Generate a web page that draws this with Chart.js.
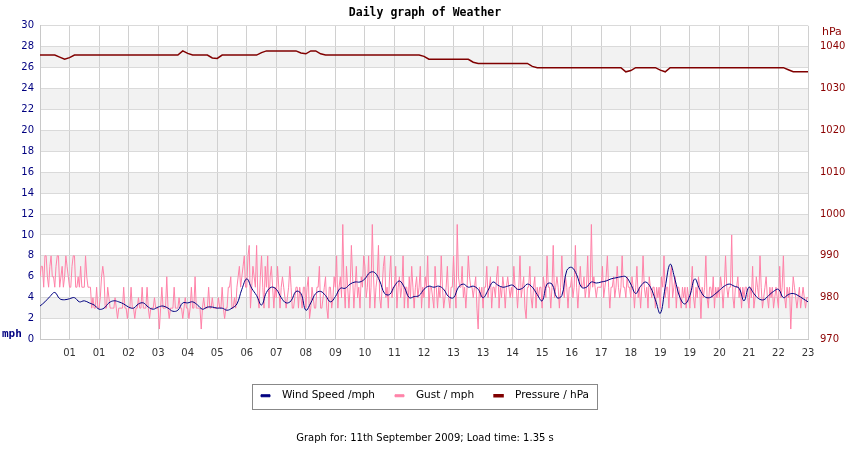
<!DOCTYPE html>
<html>
<head>
<meta charset="utf-8">
<script src="https://cdn.jsdelivr.net/npm/chart.js@4/dist/chart.umd.min.js"></script>
<style>
  html, body { margin: 0; padding: 0; background: #fff; }
  #wrap { width: 850px; height: 450px; }
</style>
</head>
<body>
<div id="wrap"><canvas id="weather" width="850" height="450"></canvas></div>
<script>
// hour labels under each vertical grid line
const hourLabels = ['01','01','02','03','04','05','06','07','08','09','10','11','12',
                    '13','13','14','15','16','17','18','19','19','20','21','22','23'];

// wind speed, mph (6 samples per grid interval)
const windSpeed = [
  3.2,3.6,4.1,4.5,3.9,3.8,3.9,4.0,3.6,3.7,
  3.5,3.3,2.9,3.0,3.5,3.7,3.6,3.4,3.1,3.0,
  3.4,3.5,3.1,2.9,3.1,3.2,3.0,2.7,2.8,3.5,
  3.5,3.6,3.3,2.9,3.1,3.1,3.0,3.0,2.8,3.0,
  3.4,4.8,5.8,4.9,4.2,3.3,4.5,5.0,4.8,4.0,
  3.5,3.7,4.6,4.4,2.8,3.5,4.4,4.6,4.2,3.6,
  4.1,4.9,4.9,5.3,5.5,5.5,5.8,6.4,6.4,5.6,
  4.4,4.3,5.1,5.6,5.0,4.0,4.1,4.2,4.8,5.1,
  5.0,5.1,4.8,4.1,4.0,5.0,5.3,5.0,5.1,4.8,
  4.0,4.7,5.5,5.2,5.0,5.1,5.2,4.8,4.9,5.3,
  5.0,4.3,3.7,5.3,5.3,4.0,4.2,6.6,6.9,6.2,
  5.0,5.0,5.5,5.4,5.5,5.6,5.8,5.9,6.0,6.0,
  5.3,4.4,5.1,5.5,5.0,3.8,2.5,5.0,7.2,5.7,
  4.0,3.4,4.2,5.8,4.8,4.1,4.0,4.3,4.7,5.1,
  5.3,5.1,4.9,3.7,5.0,4.4,3.9,3.8,4.2,4.6,
  4.8,4.0,4.3,4.4,4.2,3.9,3.6
];

// pressure, hPa (same sampling as wind)
const pressure = [
  1038,1038,1038,1038,1037.5,1037,1037.4,1038,1038,1038,
  1038,1038,1038,1038,1038,1038,1038,1038,1038,1038,
  1038,1038,1038,1038,1038,1038,1038,1038,1038,1039,
  1038.4,1038,1038,1038,1038,1037.3,1037.2,1038,1038,1038,
  1038,1038,1038,1038,1038,1038.6,1039,1039,1039,1039,
  1039,1039,1039,1038.5,1038.3,1039,1039,1038.3,1038,1038,
  1038,1038,1038,1038,1038,1038,1038,1038,1038,1038,
  1038,1038,1038,1038,1038,1038,1038,1038,1037.7,1037,
  1037,1037,1037,1037,1037,1037,1037,1037,1036.3,1036,
  1036,1036,1036,1036,1036,1036,1036,1036,1036,1036,
  1035.3,1035,1035,1035,1035,1035,1035,1035,1035,1035,
  1035,1035,1035,1035,1035,1035,1035,1035,1035,1034,
  1034.3,1035,1035,1035,1035,1035,1034.4,1034,1035,1035,
  1035,1035,1035,1035,1035,1035,1035,1035,1035,1035,
  1035,1035,1035,1035,1035,1035,1035,1035,1035,1035,
  1035,1035,1034.5,1034,1034,1034,1034
];

// gusts, mph (24 samples per grid interval)
const gust = [
  6,7,7,5,8,8,6,5,7,8,6,6,5,7,8,8,5,6,7,5,6,8,7,6,
  5,5,7,8,8,5,5,6,5,7,5,5,5,8,6,5,5,5,3,4,3,3,5,3,
  3,4,6,7,6,3,3,5,4,3,3,3,3,4,3,2,3,3,3,3,5,3,3,2,
  3,3,5,3,3,2,3,3,4,3,3,5,3,3,3,5,3,2,3,3,3,4,3,3,
  3,1,3,5,3,3,3,6,3,2,3,3,3,5,3,3,3,4,3,3,2,3,4,3,
  3,2,3,5,3,3,6,3,3,3,3,1,3,4,3,3,3,5,3,3,4,3,3,3,
  3,4,3,3,5,3,2,3,3,5,5,6,3,3,4,3,5,6,7,5,6,7,8,5,
  5,8,9,3,5,7,6,5,9,4,3,6,8,5,3,7,5,8,3,6,7,5,3,5,
  4,7,5,3,5,6,5,4,3,4,5,7,5,3,3,4,5,5,3,5,4,3,5,5,
  3,5,6,2,3,5,4,3,3,5,5,7,3,3,4,5,6,3,2,5,5,3,4,6,
  5,8,3,5,6,4,11,5,3,7,5,3,5,9,6,3,5,7,4,5,3,6,5,8,
  7,4,5,8,3,5,11,6,3,5,6,9,4,3,5,7,8,4,5,3,6,8,4,5,
  5,7,3,5,6,4,5,8,3,5,5,3,6,4,7,5,3,5,6,4,5,7,3,5,
  4,6,5,8,3,5,5,4,3,7,5,3,5,4,8,5,3,4,5,7,4,3,5,5,
  8,5,3,11,6,5,5,7,4,5,3,5,8,6,5,5,4,5,6,3,1,5,4,5,
  3,5,5,7,4,5,6,3,5,5,4,6,7,3,5,4,6,5,3,5,6,5,4,5,
  4,7,5,5,3,5,8,4,5,6,3,2,5,5,7,4,3,5,6,3,5,4,5,5,
  3,6,5,4,8,5,5,3,5,9,4,5,6,5,3,5,8,5,4,6,5,3,5,5,
  6,4,5,9,5,3,5,7,5,5,6,4,5,8,4,5,11,5,6,5,4,5,5,5,
  5,7,4,5,6,8,5,3,5,5,6,4,5,7,5,4,5,8,5,5,4,6,5,5,
  4,6,5,3,5,7,4,5,3,5,8,5,4,5,3,6,5,4,5,5,3,5,4,5,
  3,6,5,8,4,5,5,3,6,7,4,5,6,3,5,5,4,3,5,4,5,3,5,4,
  3,5,7,4,3,5,4,6,5,2,5,4,5,8,4,3,5,5,4,6,3,5,4,5,
  4,6,5,3,5,8,5,4,5,5,10,4,3,5,5,6,4,5,3,5,4,5,5,4,
  3,5,4,7,3,4,6,5,4,8,5,3,4,5,6,4,3,5,4,5,3,4,5,4,
  3,7,4,5,8,4,3,5,4,5,1,4,6,5,4,3,4,5,3,4,5,4,3,4,
  4
];

const intervals = hourLabels.length;
const toPoints = (arr) => arr.map((v, i) => ({ x: i * intervals / (arr.length - 1), y: v }));

// grey bands, axis units and corner labels
const decor = {
  id: 'decor',
  beforeDraw(chart) {
    const { ctx, chartArea: a, scales: { y } } = chart;
    ctx.save();
    ctx.fillStyle = '#f2f2f2';
    for (let v = 2; v < 30; v += 4) {
      const top = y.getPixelForValue(v + 2), bot = y.getPixelForValue(v);
      ctx.fillRect(a.left, top, a.right - a.left, bot - top);
    }
    ctx.restore();
  },
  afterDraw(chart) {
    const { ctx, chartArea: a } = chart;
    ctx.save();
    ctx.font = 'bold 11px "DejaVu Sans Mono"';
    ctx.fillStyle = '#000080';
    ctx.textBaseline = 'middle';
    ctx.fillText('mph', 2, a.bottom - 5);
    ctx.font = '11px "DejaVu Sans"';
    ctx.fillStyle = '#8b0000';
    ctx.fillText('hPa', 822, a.top + 6);
    // frame round the legend
    const boxes = chart.legend.legendHitBoxes;
    if (boxes.length) {
      const l = Math.min(...boxes.map(b => b.left)) - 9;
      const r = Math.max(...boxes.map(b => b.left + b.width)) + 8;
      const t = Math.min(...boxes.map(b => b.top)) - 7;
      const btm = Math.max(...boxes.map(b => b.top + b.height)) + 7;
      ctx.strokeStyle = '#888';
      ctx.lineWidth = 1;
      ctx.strokeRect(Math.round(l) + 0.5, Math.round(t) + 0.5, Math.round(r - l), Math.round(btm - t));
    }
    ctx.restore();
  }
};

const ctx = document.getElementById('weather').getContext('2d');
const chart = new Chart(ctx, {
  type: 'line',
  data: {
    datasets: [
      {
        label: 'Wind Speed /mph',
        data: toPoints(windSpeed),
        borderColor: '#000080',
        backgroundColor: '#000080',
        borderWidth: 1,
        pointRadius: 0,
        tension: 0.4,
        yAxisID: 'y'
      },
      {
        label: 'Gust / mph',
        data: toPoints(gust),
        borderColor: '#ff82a8',
        backgroundColor: '#ff82a8',
        borderWidth: 1,
        pointRadius: 0,
        tension: 0,
        yAxisID: 'y'
      },
      {
        label: 'Pressure / hPa',
        data: toPoints(pressure),
        borderColor: '#800000',
        backgroundColor: '#800000',
        borderWidth: 1.5,
        pointRadius: 0,
        tension: 0,
        yAxisID: 'y1'
      }
    ]
  },
  options: {
    responsive: false,
    animation: false,
    devicePixelRatio: 1,
    layout: { padding: { top: 0, bottom: 4, left: 0, right: 0 } },
    scales: {
      x: {
        type: 'linear',
        min: 0,
        max: intervals,
        afterFit: (s) => { s.height = 31; },
        grid: { color: '#d0d0d0', drawTicks: false },
        border: { color: '#c8c8c8' },
        ticks: {
          stepSize: 1,
          autoSkip: false,
          maxRotation: 0,
          padding: 8,
          color: '#333',
          font: { family: 'DejaVu Sans', size: 10 },
          callback: (v) => (v >= 1 ? hourLabels[v - 1] : '')
        }
      },
      y: {
        position: 'left',
        min: 0,
        max: 30,
        afterFit: (s) => { s.width = 40; },
        grid: { color: '#dadada', drawTicks: false },
        border: { color: '#c8c8c8' },
        ticks: {
          stepSize: 2,
          padding: 6,
          color: '#000080',
          font: { family: 'DejaVu Sans', size: 10 }
        }
      },
      y1: {
        position: 'right',
        min: 970,
        max: 1045,
        afterFit: (s) => { s.width = 42; },
        grid: { display: false },
        border: { display: false },
        ticks: {
          stepSize: 10,
          padding: 4,
          color: '#8b0000',
          font: { family: 'DejaVu Sans', size: 10 },
          callback: (v) => (v > 1040 ? '' : v)
        }
      }
    },
    plugins: {
      title: {
        display: true,
        text: 'Daily graph of Weather',
        color: '#000',
        font: { family: 'DejaVu Sans Mono', size: 11.5, weight: 'bold' },
        padding: { top: 6, bottom: 6 }
      },
      legend: {
        position: 'bottom',
        labels: {
          boxWidth: 9,
          boxHeight: 2,
          padding: 20,
          color: '#000',
          font: { family: 'DejaVu Sans', size: 10.5 },
          generateLabels: (chart) => Chart.defaults.plugins.legend.labels.generateLabels(chart)
            .map(item => Object.assign(item, { text: '\u00a0\u00a0' + item.text }))
        }
      },
      subtitle: {
        display: true,
        position: 'bottom',
        text: 'Graph for: 11th September 2009; Load time: 1.35 s',
        color: '#000',
        font: { family: 'DejaVu Sans', size: 10 },
        padding: { top: 21, bottom: 2 }
      },
      tooltip: { enabled: false }
    }
  },
  plugins: [decor]
});
</script>
</body>
</html>
